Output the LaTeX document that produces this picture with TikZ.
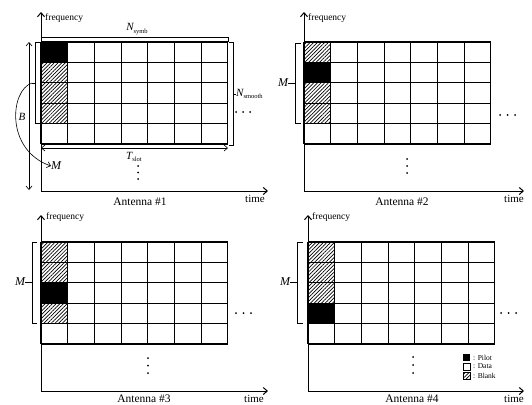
\documentclass[tikz,border=0pt]{standalone}
\usepackage{fontspec}
\setmainfont{Liberation Serif}
\usetikzlibrary{patterns,patterns.meta,arrows.meta}
\newcommand\sbs[1]{\raisebox{-0.5ex}{\fontsize{6.5}{6.5}\selectfont #1}}
\newcommand\gridpanel[3]{%
  \foreach \r in {0,...,3}{\fill[hatch] (#1,#2+\r*20.4) rectangle ++(26.7,20.4);}
  \fill[black] (#1,#2+#3*20.4) rectangle ++(26.7,20.4);
  \foreach \i in {0,...,7}{\draw[gridline] (#1+\i*26.7,#2) -- ++(0,102);}
  \foreach \j in {0,...,5}{\draw[gridline] (#1,#2+\j*20.4) -- ++(186.9,0);}
}
\begin{document}
\begin{tikzpicture}[x=1pt,y=-1pt,
  hatch/.style={pattern={Lines[angle=45,distance=2.6pt,line width=0.7pt]}},
  gridline/.style={line width=1.15pt},
  axis/.style={line width=1pt,-{Straight Barb[length=4pt,width=7pt]}},
  brk/.style={line width=0.6pt},
  dbl/.style={line width=0.6pt,{Straight Barb[length=3.5pt,width=6pt]}-{Straight Barb[length=3.5pt,width=6pt]}},
  freq/.style={inner sep=0pt,anchor=west,font=\fontsize{9.5}{10}\selectfont},
  tlbl/.style={inner sep=0pt,font=\fontsize{11}{12}\selectfont},
  ant/.style={inner sep=0pt,font=\fontsize{11.5}{12}\selectfont},
  sym/.style={inner sep=0pt,font=\fontsize{11}{12}\selectfont\itshape},
  msym/.style={inner sep=0pt,font=\fontsize{12}{13}\selectfont\itshape},
  leg/.style={inner sep=0pt,anchor=west,font=\fontsize{7.5}{8}\selectfont},
  dot/.style={fill=black}]
\useasboundingbox (0,0) rectangle (532,404);

% ---------- Panel 1 ----------
\gridpanel{41}{42}{0}
\coordinate (o1) at (41,191);
\coordinate (f1) at (41,12);
\coordinate (t1) at (268,191);
\draw[axis] (o1) -- (f1);
\draw[axis] (o1) -- (t1);
\node[freq] (fr1) at (45,18) {frequency};
\node[tlbl] (tm1) at (255,199) {time};
\node[ant] (an1) at (140,202) {Antenna \#1};
% N_symb
\draw[brk] (41,42) -- (41,37) -- (228,37) -- (228,42);
\node[sym] (nsymb) at (137,29) {N\upshape\sbs{symb}};
% left bracket and M
\draw[brk] (40,42) -- (35,42) -- (35,123) -- (40,123);
\coordinate (lb1) at (35,83);
\coordinate (lt1) at (32,83);
\draw[brk] (lb1) -- (lt1);
\node[msym,anchor=west] (m1) at (51,166) {M};
\draw[brk,-{Straight Barb[length=3.5pt,width=6pt]}] (lt1) .. controls (10,90) and (5,150) .. (m1.west);
% B arrow
\coordinate (b1t) at (29,42);
\coordinate (b1b) at (29,190);
\draw[dbl] (b1t) -- (b1b);
\node[sym] (b1) at (22,117) {B};
% N_smooth
\draw[brk] (229,42) -- (233,42) -- (233,145) -- (229,145);
\coordinate (ns1) at (233,94);
\node[sym,anchor=west] (nsm) at (236,94) {N\upshape\sbs{smooth}};
\draw[brk] (ns1) -- (nsm.west);
% T_slot
\coordinate (ts1) at (41,148);
\coordinate (ts2) at (228,148);
\draw[dbl] (ts1) -- (ts2);
\node[sym] (tslot) at (134,157) {T\upshape\sbs{slot}};
% dots
\foreach \x in {236,243,250}{\fill[dot] (\x,112) circle (1);}
\foreach \y in {166,172.5,179}{\fill[dot] (138,\y) circle (1);}

% ---------- Panel 2 ----------
\gridpanel{304}{42}{1}
\coordinate (o2) at (304,191);
\coordinate (f2) at (304,12);
\coordinate (t2) at (524,191);
\draw[axis] (o2) -- (f2);
\draw[axis] (o2) -- (t2);
\node[freq] (fr2) at (308,18) {frequency};
\node[tlbl] (tm2) at (514,199) {time};
\node[ant] (an2) at (402,202) {Antenna \#2};
\draw[brk] (301,43) -- (295,43) -- (295,123) -- (301,123);
\node[msym] (m2) at (283,83) {M};
\draw[brk] (295,83) -- (m2.east);
\foreach \x in {500,507.5,515}{\fill[dot] (\x,115) circle (1);}
\foreach \y in {159,166,173}{\fill[dot] (407,\y) circle (1);}

% ---------- Panel 3 ----------
\gridpanel{41}{242}{2}
\coordinate (o3) at (41,391);
\coordinate (f3) at (41,215);
\coordinate (t3) at (268,391);
\draw[axis] (o3) -- (f3);
\draw[axis] (o3) -- (t3);
\node[freq] (fr3) at (46,217) {frequency};
\node[tlbl] (tm3) at (254,399) {time};
\node[ant] (an3) at (144,399) {Antenna \#3};
\draw[brk] (37,242) -- (32,242) -- (32,323) -- (37,323);
\node[msym] (m3) at (20,282) {M};
\draw[brk] (32,282) -- (m3.east);
\foreach \x in {236,243.5,251}{\fill[dot] (\x,313) circle (1);}
\foreach \y in {358,365.5,373}{\fill[dot] (148,\y) circle (1);}

% ---------- Panel 4 ----------
\gridpanel{308}{242}{3}
\coordinate (o4) at (308,391);
\coordinate (f4) at (308,215);
\coordinate (t4) at (524,391);
\draw[axis] (o4) -- (f4);
\draw[axis] (o4) -- (t4);
\node[freq] (fr4) at (312,217) {frequency};
\node[tlbl] (tm4) at (514,399) {time};
\node[ant] (an4) at (412,399) {Antenna \#4};
\draw[brk] (303,242) -- (297,242) -- (297,323) -- (303,323);
\node[msym] (m4) at (285,282) {M};
\draw[brk] (297,282) -- (m4.east);
\foreach \x in {501,508.5,516}{\fill[dot] (\x,313) circle (1);}
\foreach \y in {357,365,373}{\fill[dot] (413,\y) circle (1);}

% ---------- Legend ----------
\fill[black] (463,354) rectangle (470,361);
\draw[line width=0.7pt] (463,363) rectangle (470,370);
\fill[hatch] (463,372) rectangle (470,379);
\draw[line width=0.5pt] (463,372) rectangle (470,379);
\node[leg] (lp) at (473,357.5) {: Pilot};
\node[leg] (ld) at (473,366.5) {: Data};
\node[leg] (lbk) at (473,375.5) {: Blank};
\end{tikzpicture}
\end{document}
